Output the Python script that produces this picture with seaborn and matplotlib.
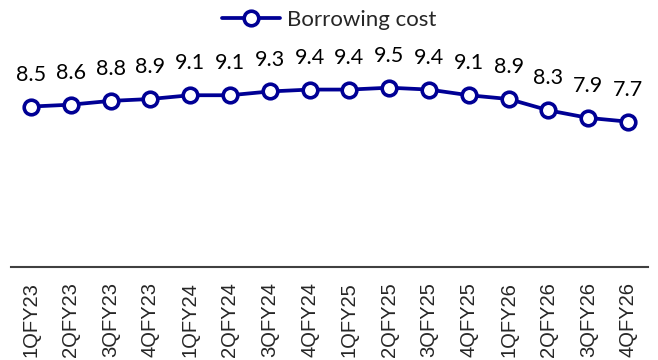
import matplotlib
matplotlib.use('Agg')
import matplotlib.pyplot as plt
import pandas as pd
import seaborn as sns

quarters = ['1QFY23', '2QFY23', '3QFY23', '4QFY23', '1QFY24', '2QFY24', '3QFY24', '4QFY24',
            '1QFY25', '2QFY25', '3QFY25', '4QFY25', '1QFY26', '2QFY26', '3QFY26', '4QFY26']
borrowing_cost = [8.5, 8.6, 8.8, 8.9, 9.1, 9.1, 9.3, 9.4, 9.4, 9.5, 9.4, 9.1, 8.9, 8.3, 7.9, 7.7]

NAVY = '#000095'


def plot(df, image_name):
    sns.set_style('white')
    fig = plt.figure(figsize=(6.58, 3.6), dpi=100)
    ax = fig.add_axes([11 / 658, 93 / 360, 637 / 658, 226.5 / 360])

    sns.lineplot(data=df, x='pos', y='cost', ax=ax, color=NAVY, linewidth=2.7,
                 marker='o', markersize=10.5, markerfacecolor='white',
                 markeredgecolor=NAVY, markeredgewidth=2.6, label='Borrowing cost')

    # data labels above each point
    for x, y in zip(df['pos'], df['cost']):
        ax.annotate(f'{y:.1f}', (x, y), xytext=(0, 23), textcoords='offset points',
                    ha='center', va='center', fontsize=15.5, family='Lato', color='black')

    ax.set_xlim(-0.5, len(df) - 0.5)
    ax.set_ylim(0, 12)
    ax.set_xticks(df['pos'])
    ax.set_xticklabels(df['quarter'], rotation=90, fontsize=14.5,
                       family='Liberation Sans', va='top')
    ax.tick_params(axis='x', length=0, pad=11)
    ax.set_yticks([])
    ax.set_xlabel('')
    ax.set_ylabel('')
    for side in ['top', 'right', 'left']:
        ax.spines[side].set_visible(False)
    ax.spines['bottom'].set_color('#404040')
    ax.spines['bottom'].set_linewidth(1.5)

    handles, labels = ax.get_legend_handles_labels()
    ax.get_legend().remove()
    fig.legend(handles, labels, loc='center', bbox_to_anchor=(0.5, 1 - 20 / 360),
               frameon=False, prop={'family': 'Lato', 'size': 16},
               handlelength=2.6, handletextpad=0.3)

    fig.savefig(image_name, dpi=100)


def main():
    df = pd.DataFrame({'quarter': quarters, 'cost': borrowing_cost})
    df['pos'] = range(len(df))
    plot(df, 'out.png')


if __name__ == '__main__':
    main()
